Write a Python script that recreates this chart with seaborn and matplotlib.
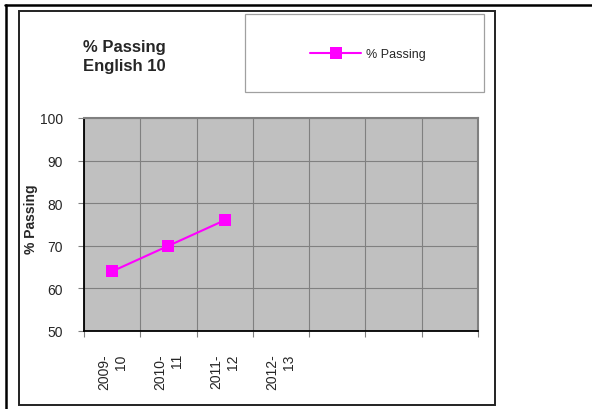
import matplotlib
matplotlib.use("Agg")
import matplotlib.pyplot as plt
from matplotlib.lines import Line2D
from matplotlib.patches import Rectangle
import seaborn as sns
import pandas as pd
import numpy as np

# ---- data ----
categories = ["2009-\n10", "2010-\n11", "2011-\n12", "2012-\n13", "", "", ""]
years = ["2009-\n10", "2010-\n11", "2011-\n12"]
pct_passing = [64, 70, 76]
y_ticks = [50, 60, 70, 80, 90, 100]
series_name = "% Passing"
title_text = "% Passing\nEnglish 10"
y_label = "% Passing"

sns.set_style("white")
plt.rcParams['font.family'] = ['Liberation Sans', 'DejaVu Sans']

W, H = 592, 410
fig = plt.figure(figsize=(W / 100, H / 100), dpi=100)


def fx(px):
    return px / W


def fy(py):
    return 1 - py / H


# outer page lines and chart frame
fig.add_artist(Line2D([fx(5), fx(592)], [fy(5.5), fy(5.5)], color="black", lw=1.8,
                      transform=fig.transFigure))
fig.add_artist(Line2D([fx(6), fx(6)], [fy(5.5), fy(410)], color="black", lw=1.8,
                      transform=fig.transFigure))
fig.add_artist(Rectangle((fx(19), fy(406)), fx(495) - fx(19), fy(12) - fy(406),
                         transform=fig.transFigure, fill=False, edgecolor="#222222", lw=1.4))

# legend box
fig.add_artist(Rectangle((fx(245), fy(93)), fx(484) - fx(245), fy(15) - fy(93),
                         transform=fig.transFigure, facecolor="white", edgecolor="#A0A0A0", lw=0.9))

ax = fig.add_axes([fx(84), fy(332), fx(478) - fx(84), fy(119) - fy(332)])
ax.set_facecolor("#C0C0C0")

df = pd.DataFrame({
    "pos": [categories.index(y) for y in years],
    "value": pct_passing,
})
sns.lineplot(data=df, x="pos", y="value", ax=ax, color="#FF00FF", marker="s",
             markersize=8.5, linewidth=1.5, markeredgecolor="#FF00FF",
             markeredgewidth=0, legend=False)

n = len(categories)
ax.set_xlim(-0.5, n - 0.5)
ax.set_ylim(y_ticks[0], y_ticks[-1])
ax.set_yticks(y_ticks)
ax.set_yticklabels([str(v) for v in y_ticks], fontsize=10)
ax.set_xticks(np.arange(-0.5, n, 1.0))
ax.set_xticklabels([])
ax.set_xticks(np.arange(n), minor=True)
ax.set_xticklabels(categories, minor=True, rotation=90, fontsize=10, ha="center", va="top",
                   linespacing=1.25)
for t in ax.get_xticklabels(minor=True):
    t.set_multialignment("right")
ax.tick_params(axis="x", which="major", length=4, direction="out", color="#808080", width=0.8, bottom=True)
ax.tick_params(axis="x", which="minor", length=0, pad=16)
ax.tick_params(axis="y", which="major", length=4, direction="out", color="#808080", width=0.8, pad=11, left=True)
ax.set_xlabel("")
ax.set_ylabel("")

ax.grid(True, which="major", color="#808080", lw=0.8)
ax.set_axisbelow(True)
for s in ["left", "bottom"]:
    ax.spines[s].set_color("black")
    ax.spines[s].set_linewidth(1.3)
for s in ["top", "right"]:
    ax.spines[s].set_color("#808080")
    ax.spines[s].set_linewidth(1.5)
    ax.spines[s].set_visible(True)

# title and y label
fig.text(fx(83), fy(40), title_text, ha="left", va="top", fontsize=12,
         fontweight="bold", linespacing=1.3)
fig.text(fx(31), fy(219), y_label, rotation=90, ha="center", va="center",
         fontsize=10, fontweight="bold")

# legend
handle = ax.get_lines()[0]
fig.legend([handle], [series_name], loc="center left",
           bbox_to_anchor=(fx(310), fy(55)), bbox_transform=fig.transFigure,
           frameon=False, fontsize=9, handlelength=4.1, handletextpad=0.4,
           borderpad=0, borderaxespad=0, numpoints=1)

fig.savefig("out.png", dpi=100)
